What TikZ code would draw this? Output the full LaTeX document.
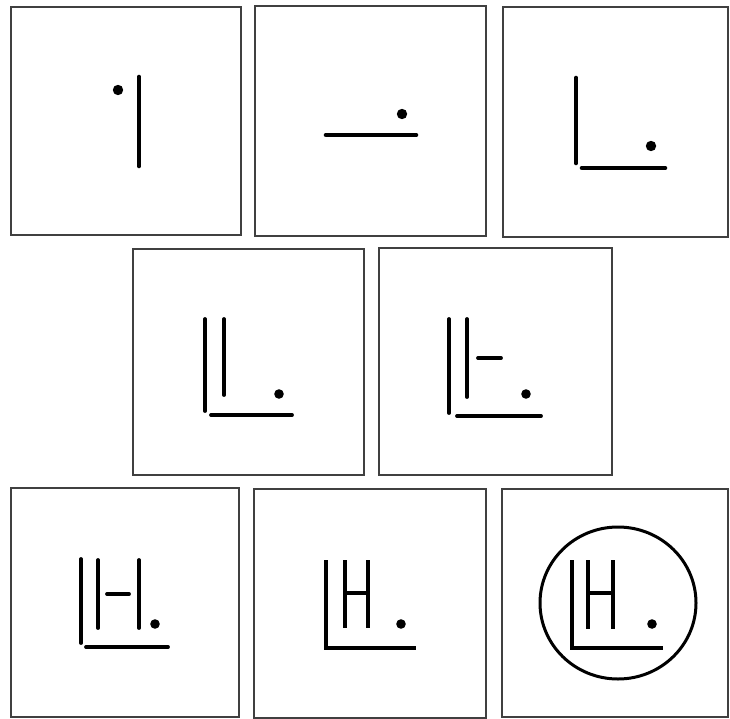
\documentclass[tikz,border=0pt]{standalone}
\begin{document}
\begin{tikzpicture}[x=1pt,y=-1pt,
  panel/.style={draw=black!75,line width=1.6pt},
  stroke/.style={line width=4.6pt,line cap=round},
  thin stroke/.style={line width=3.8pt,line cap=round},
  dotmark/.style={fill=black}]
\useasboundingbox (0,0) rectangle (730,719);
% Row 1
\draw[panel] (11,7) rectangle (241,235);
\fill[dotmark] (118,90) circle (5.2);
\draw[stroke] (139,77) -- (139,166);

\draw[panel] (255,6) rectangle (486,236);
\fill[dotmark] (402,114) circle (5.2);
\draw[stroke] (326,135) -- (416,135);

\draw[panel] (503,7) rectangle (728,237);
\draw[stroke] (576,78) -- (576,163);
\draw[stroke] (582,168) -- (665,168);
\fill[dotmark] (651,146) circle (5.2);

% Row 2
\draw[panel] (133,249) rectangle (364,475);
\draw[thin stroke] (205,319) -- (205,411);
\draw[thin stroke] (224,319) -- (224,395);
\draw[thin stroke] (211,415) -- (292,415);
\fill[dotmark] (279,394) circle (4.8);

\draw[panel] (379,248) rectangle (612,475);
\draw[thin stroke] (449,319) -- (449,413);
\draw[thin stroke] (467,319) -- (467,397);
\draw[thin stroke] (478,358) -- (501,358);
\draw[thin stroke] (457,416) -- (541,416);
\fill[dotmark] (526,394) circle (4.8);

% Row 3
\draw[panel] (11,488) rectangle (239,717);
\draw[thin stroke] (81,559) -- (81,643);
\draw[thin stroke] (98,560) -- (98,628);
\draw[thin stroke] (107,594) -- (129,594);
\draw[thin stroke] (139,560) -- (139,628);
\draw[thin stroke] (86,647) -- (168,647);
\fill[dotmark] (155,624) circle (4.8);

\draw[panel] (254,489) rectangle (486,718);
\draw[thin stroke,line cap=butt] (326,560) -- (326,648) -- (416,648);
\draw[thin stroke,line cap=butt] (345,560) -- (345,628);
\draw[thin stroke,line cap=butt] (368,560) -- (368,628);
\draw[thin stroke] (345,593) -- (368,593);
\fill[dotmark] (401,624) circle (4.8);

\draw[panel] (502,489) rectangle (728,717);
\draw[line width=3pt] (618,603) ellipse [x radius=78, y radius=76];
\draw[thin stroke,line cap=butt] (572,560) -- (572,648) -- (663,648);
\draw[thin stroke,line cap=butt] (588,560) -- (588,629);
\draw[thin stroke,line cap=butt] (613,560) -- (613,629);
\draw[thin stroke] (588,593) -- (613,593);
\fill[dotmark] (652,624) circle (4.8);
\end{tikzpicture}
\end{document}
